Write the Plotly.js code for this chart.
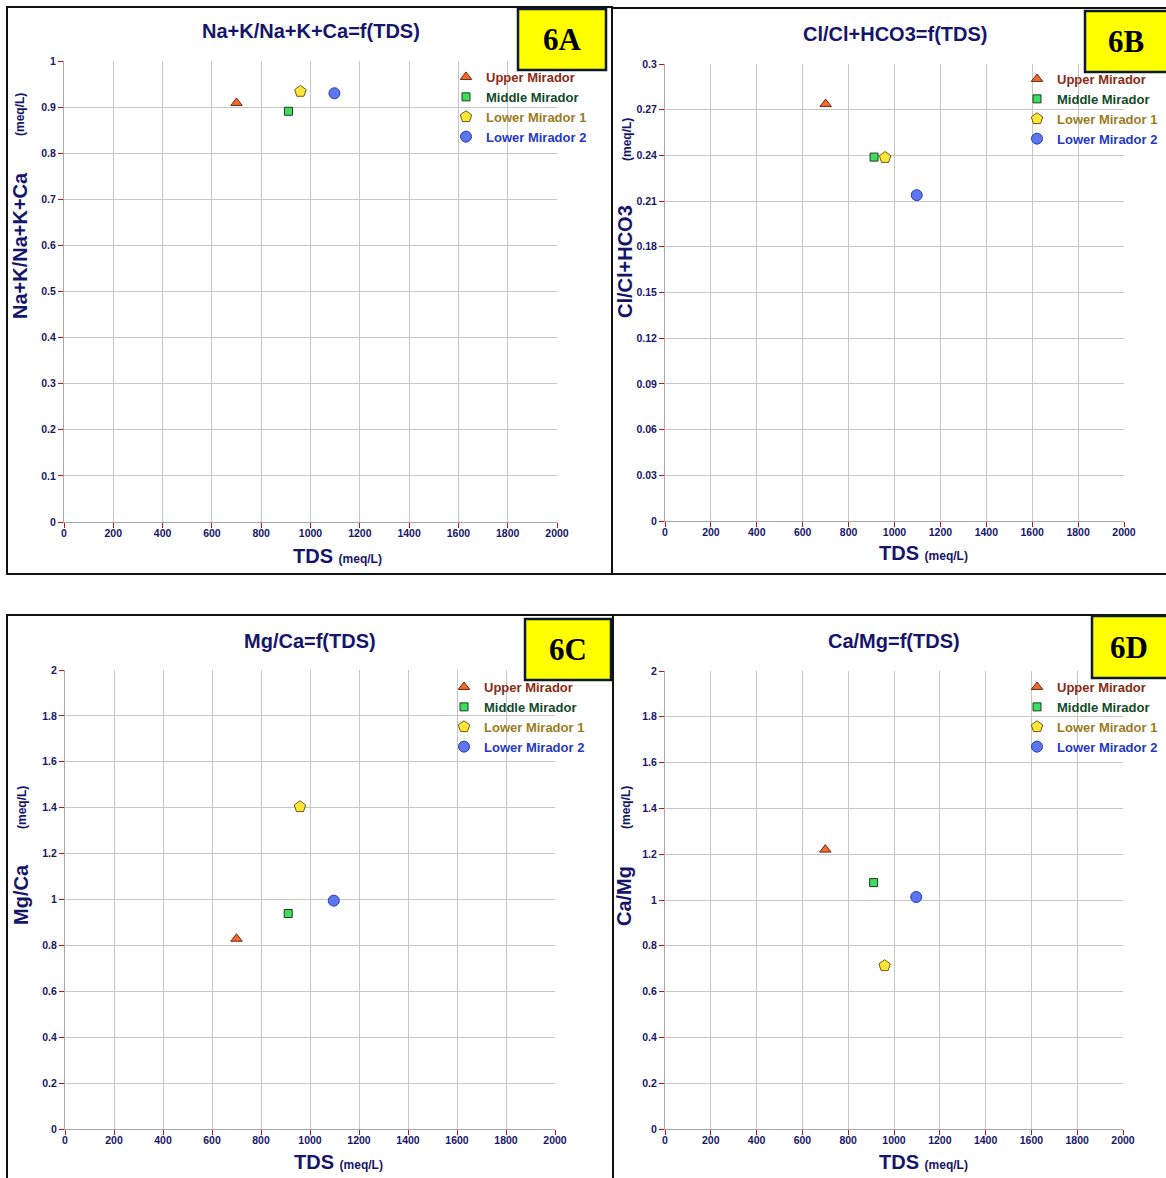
<!DOCTYPE html>
<html>
<head>
<meta charset="utf-8">
<script src="https://cdn.plot.ly/plotly-3.0.1.min.js"></script>
<style>
  html, body { margin: 0; padding: 0; background: #ffffff; }
  #chart { width: 1166px; height: 1178px; }
</style>
</head>
<body>
<div id="chart"></div>
<script>
// ---------------- DATA ----------------
const seriesNames = ["Upper Mirador", "Middle Mirador", "Lower Mirador 1", "Lower Mirador 2"];
const tds = [700, 911, 959, 1097];                 // TDS (meq/L)
const naKRatio = [0.909, 0.891, 0.934, 0.930];     // Na+K/Na+K+Ca
const clRatio = [0.2737, 0.2389, 0.2386, 0.2139];  // Cl/Cl+HCO3
const mgCaRatio = [0.829, 0.939, 1.404, 0.995];    // Mg/Ca
const caMgRatio = [1.220, 1.076, 0.713, 1.013];    // Ca/Mg

const panelTitles = ["Na+K/Na+K+Ca=f(TDS)", "Cl/Cl+HCO3=f(TDS)", "Mg/Ca=f(TDS)", "Ca/Mg=f(TDS)"];
const panelYLabels = ["Na+K/Na+K+Ca", "Cl/Cl+HCO3", "Mg/Ca", "Ca/Mg"];
const panelTags = ["6A", "6B", "6C", "6D"];
const xTitle = "TDS";
const unitLabel = "(meq/L)";

// ---------------- STYLE ----------------
const W = 1166, H = 1178;
const px = v => v / W;
const py = v => 1 - v / H;
const FONT = "Liberation Sans, Arial, sans-serif";
const NAVY = "#15156a";

const markerStyles = [
  {symbol: "triangle-up", size: 10, color: "#f2692c", line: {color: "#6b2a12", width: 1}},
  {symbol: "square", size: 8, color: "#3fdc62", line: {color: "#1b3f1b", width: 1}},
  {symbol: "pentagon", size: 12, color: "#ffe53a", line: {color: "#6b5c12", width: 1}},
  {symbol: "circle", size: 11, color: "#5b76ee", line: {color: "#2b3aa8", width: 1}}
];
const legendTextColors = ["#8a2b14", "#0f4a2a", "#9a7c1c", "#2538c4"];

const panels = [
  {y: naKRatio, range: [0, 1], dtick: 0.1, plot: [64, 557, 61, 522],
   frame: [7, 612, 7, 574], tag: [518, 606, 9, 70],
   title: [311, 31], xt: [291, 556], yl: [20, 246], yu: [20, 115], leg: [446, 62]},
  {y: clRatio, range: [0, 0.3], dtick: 0.03, plot: [665, 1124, 64, 521],
   frame: [612, 1175, 8, 574], tag: [1085, 1175, 11, 72],
   title: [895, 34], xt: [877, 553], yl: [625, 262], yu: [627, 140], leg: [1017, 64]},
  {y: mgCaRatio, range: [0, 2], dtick: 0.2, plot: [65, 555, 670, 1129],
   frame: [7, 613, 615, 1190], tag: [525, 611, 619, 680],
   title: [310, 641], xt: [292, 1162], yl: [21, 895], yu: [22, 808], leg: [444, 672]},
  {y: caMgRatio, range: [0, 2], dtick: 0.2, plot: [665, 1123, 671, 1129],
   frame: [613, 1175, 615, 1190], tag: [1092, 1175, 616, 678],
   title: [894, 641], xt: [877, 1162], yl: [624, 896], yu: [626, 808], leg: [1017, 672]}
];

const traces = [];
const layout = {
  width: W, height: H,
  margin: {l: 0, r: 0, t: 0, b: 0},
  paper_bgcolor: "#ffffff",
  plot_bgcolor: "#ffffff",
  font: {family: FONT, color: NAVY},
  annotations: [],
  shapes: []
};

panels.forEach((p, i) => {
  const n = i + 1;
  const xa = n === 1 ? "x" : "x" + n;
  const ya = n === 1 ? "y" : "y" + n;
  const legId = n === 1 ? "legend" : "legend" + n;

  seriesNames.forEach((name, s) => {
    traces.push({
      type: "scatter", mode: "markers",
      x: [tds[s]], y: [p.y[s]],
      xaxis: xa, yaxis: ya,
      legend: legId,
      name: "<span style='color:" + legendTextColors[s] + "'>" + name + "</span>",
      marker: markerStyles[s],
      hoverinfo: "x+y"
    });
  });

  const axCommon = {
    showgrid: true, gridcolor: "#c6c6c6", gridwidth: 1,
    showline: true, linecolor: "#a8a8a8", linewidth: 1,
    zeroline: false,
    ticks: "outside", ticklen: 5, tickcolor: "#cc1010", tickwidth: 1,
    tickfont: {family: FONT, size: 10.5, color: NAVY, weight: "bold"},
    fixedrange: true
  };
  layout["xaxis" + (n === 1 ? "" : n)] = Object.assign({}, axCommon, {
    domain: [px(p.plot[0]), px(p.plot[1])],
    anchor: ya, range: [0, 2000], dtick: 200, tick0: 0,
    ticklabelstandoff: -4
  });
  layout["yaxis" + (n === 1 ? "" : n)] = Object.assign({}, axCommon, {
    domain: [py(p.plot[3]), py(p.plot[2])],
    anchor: xa, range: p.range, dtick: p.dtick, tick0: 0
  });

  layout[legId] = {
    x: px(p.leg[0]), y: py(p.leg[1]), xanchor: "left", yanchor: "top",
    bgcolor: "rgba(0,0,0,0)", borderwidth: 0,
    font: {family: FONT, size: 13, color: NAVY, weight: "bold"},
    tracegroupgap: 0
  };

  // panel frame
  layout.shapes.push({type: "rect", xref: "paper", yref: "paper",
    x0: px(p.frame[0]), x1: px(p.frame[1]), y0: py(p.frame[3]), y1: py(p.frame[2]),
    line: {color: "#111111", width: 2}, fillcolor: "rgba(0,0,0,0)", layer: "above"});
  // tag box
  layout.shapes.push({type: "rect", xref: "paper", yref: "paper",
    x0: px(p.tag[0]), x1: px(p.tag[1]), y0: py(p.tag[3]), y1: py(p.tag[2]),
    line: {color: "#0d1a2a", width: 2.5}, fillcolor: "#ffff00", layer: "above"});
  layout.annotations.push({xref: "paper", yref: "paper",
    x: px((p.tag[0] + Math.min(p.tag[1], 1166)) / 2),
    y: py((p.tag[2] + p.tag[3]) / 2), showarrow: false,
    text: "<b>" + panelTags[i] + "</b>",
    font: {family: "Liberation Serif, Times New Roman, serif", size: 31, color: "#000000"},
    xanchor: "center", yanchor: "middle"});

  // title
  layout.annotations.push({xref: "paper", yref: "paper", x: px(p.title[0]), y: py(p.title[1]),
    showarrow: false, xanchor: "center", yanchor: "middle",
    text: "<b>" + panelTitles[i] + "</b>",
    font: {family: FONT, size: 20, color: NAVY}});
  // x title
  layout.annotations.push({xref: "paper", yref: "paper", x: px(p.xt[0]), y: py(p.xt[1]),
    showarrow: false, xanchor: "left", yanchor: "middle",
    text: "<b>" + xTitle + "</b> <b><span style='font-size:12px'>" + unitLabel + "</span></b>",
    font: {family: FONT, size: 20, color: NAVY}});
  // y title
  layout.annotations.push({xref: "paper", yref: "paper", x: px(p.yl[0]), y: py(p.yl[1]),
    showarrow: false, xanchor: "center", yanchor: "middle", textangle: -90,
    text: "<b>" + panelYLabels[i] + "</b>",
    font: {family: FONT, size: 20, color: NAVY}});
  layout.annotations.push({xref: "paper", yref: "paper", x: px(p.yu[0]), y: py(p.yu[1]),
    showarrow: false, xanchor: "center", yanchor: "middle", textangle: -90,
    text: "<b>" + unitLabel + "</b>",
    font: {family: FONT, size: 12, color: NAVY}});
});

Plotly.newPlot("chart", traces, layout, {displayModeBar: false, staticPlot: true});
</script>
</body>
</html>
